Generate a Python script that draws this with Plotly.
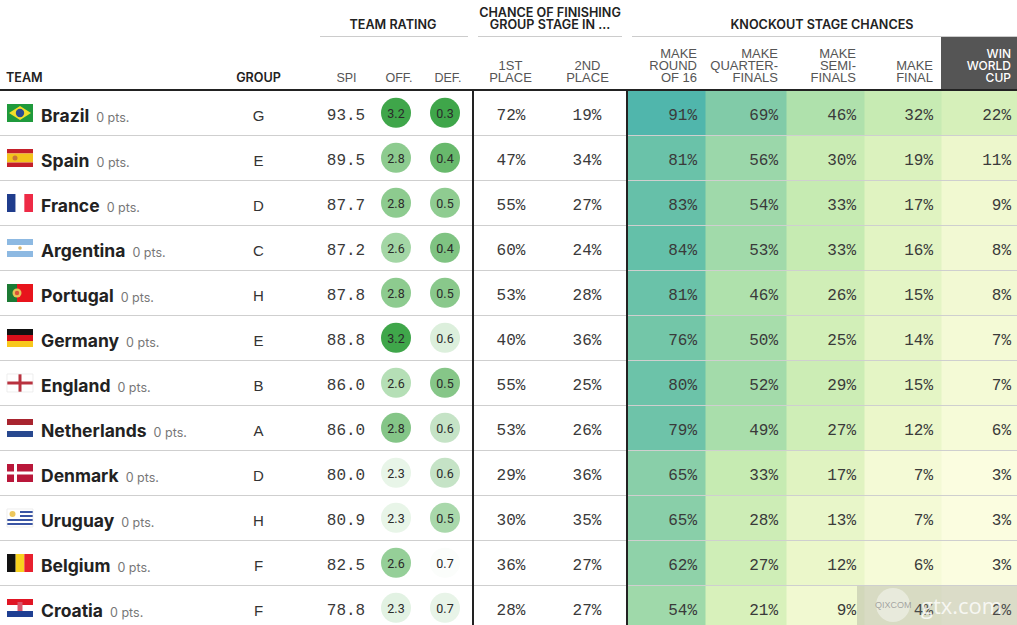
import plotly.graph_objects as go

teams = ["Brazil","Spain","France","Argentina","Portugal","Germany","England","Netherlands","Denmark","Uruguay","Belgium","Croatia"]
points = [0]*12
groups = ["G","E","D","C","H","E","B","A","D","H","F","F"]
spi = [93.5,89.5,87.7,87.2,87.8,88.8,86.0,86.0,80.0,80.9,82.5,78.8]
off = [3.20,2.81,2.81,2.62,2.81,3.20,2.58,2.84,2.30,2.30,2.65,2.33]
deff = [0.30,0.40,0.50,0.42,0.48,0.62,0.47,0.58,0.58,0.52,0.70,0.66]
first = [72,47,55,60,53,40,55,53,29,30,36,28]
second = [19,34,27,24,28,36,25,26,36,35,27,27]
r16 = [91,81,83,84,81,76,80,79,65,65,62,54]
qf = [69,56,54,53,46,50,52,49,33,28,27,21]
sf = [46,30,33,33,26,25,29,27,17,13,12,9]
final = [32,19,17,16,15,14,15,12,7,7,6,4]
win = [22,11,9,8,8,7,7,6,3,3,3,2]

W, H = 1017, 625
ROW0, ROWH = 91, 45
rows = list(range(len(teams)))
yc = [ROW0 + ROWH*(r+0.5) for r in rows]
MONO = "Liberation Mono"
SANS = "Liberation Sans"
TITLE = "Inter"
NARROW = "Roboto"

fig = go.Figure()

# knockout heat cells
edges = [627.5,705,786,864,941,1017]
edges_y = [ROW0 + ROWH*r for r in range(13)]
scale = [[0,"#FFFFE8"],[0.03,"#FBFDE0"],[0.1,"#EFF8CE"],[0.2,"#D9F1BC"],[0.33,"#C6EBB2"],[0.48,"#ABDFAB"],
         [0.7,"#7FCAA8"],[0.85,"#62BFA9"],[0.92,"#4DB4AC"],[1,"#45B0AC"]]
z = [[r16[r],qf[r],sf[r],final[r],win[r]] for r in rows]
fig.add_trace(go.Heatmap(x=edges,y=edges_y,z=z,zmin=0,zmax=100,colorscale=scale,showscale=False,hoverinfo="skip"))

shapes = []
def line(x0,y0,x1,y1,c,w):
    shapes.append(dict(type="line",x0=x0,y0=y0,x1=x1,y1=y1,line=dict(color=c,width=w),layer="above"))
def rect(x0,y0,x1,y1,c,layer="above"):
    shapes.append(dict(type="rect",x0=x0,y0=y0,x1=x1,y1=y1,fillcolor=c,line=dict(width=0),layer=layer))

# header fill
rect(941,37,1017,90,"#555555",layer="below")
# rules
for x0,x1 in [(320,468),(478,622),(632,1017)]:
    line(x0,36.5,x1,36.5,"#cccccc",1)
for r in rows[1:]:
    line(0,ROW0+ROWH*r-0.5,W,ROW0+ROWH*r-0.5,"#cfcfcf",1)
line(0,90,W,90,"#222222",2)
line(473,90,473,H,"#222222",2)
line(627,90,627,H,"#222222",2)

# flags (decor)
FX0,FX1,FH = 7,33,18
def fy(r): return yc[r]-9.5
def hstripes(r,cols):
    n=len(cols)
    for i,c in enumerate(cols):
        rect(FX0,fy(r)+FH*i/n,FX1,fy(r)+FH*(i+1)/n,c)
def vstripes(r,cols):
    n=len(cols)
    w=FX1-FX0
    for i,c in enumerate(cols):
        rect(FX0+w*i/n,fy(r),FX0+w*(i+1)/n,fy(r)+FH,c)
def circ(cx,cy,rad,c):
    shapes.append(dict(type="circle",x0=cx-rad,y0=cy-rad,x1=cx+rad,y1=cy+rad,fillcolor=c,line=dict(width=0),layer="above"))
def border(r):
    shapes.append(dict(type="rect",x0=FX0,y0=fy(r),x1=FX1,y1=fy(r)+FH,line=dict(color="#e6e6e6",width=0.7),layer="above"))
# Brazil
hstripes(0,["#1F9A3C"])
y=fy(0)
shapes.append(dict(type="path",path=f"M 9 {y+9} L 20 {y+2} L 31 {y+9} L 20 {y+16} Z",fillcolor="#F2DF2A",line=dict(width=0),layer="above"))
circ(20,y+9,4.2,"#2A4C93")
# Spain
y=fy(1)
hstripes(1,["#C4202A","#F3C31B","#F3C31B","#C4202A"]); circ(15,y+9,2.5,"#C8743A")
# France
vstripes(2,["#1F3C8C","#FFFFFF","#EE2A46"])
# Argentina
y=fy(3)
hstripes(3,["#8DB9E2","#FFFFFF","#8DB9E2"]); circ(20,y+9,1.8,"#D9B66C")
# Portugal
y=fy(4)
rect(7,y,17,y+18,"#1C7A34"); rect(17,y,33,y+18,"#E8141C"); circ(17,y+9,4.5,"#E7C257"); circ(17,y+9,2.2,"#D8543A")
# Germany
hstripes(5,["#111111","#D90F1A","#F8C81C"])
# England
y=fy(6)
hstripes(6,["#FFFFFF"]); rect(7,y+7.5,33,y+10.5,"#B9323F"); rect(18.5,y,21.5,y+18,"#B9323F"); border(6)
# Netherlands
hstripes(7,["#A8242F","#FFFFFF","#28488F"])
# Denmark
y=fy(8)
hstripes(8,["#B9173A"]); rect(7,y+7.5,33,y+10.5,"#FFFFFF"); rect(14,y,17,y+18,"#FFFFFF")
# Uruguay
y=fy(9)
hstripes(9,["#FFFFFF","#3A55A4","#FFFFFF","#3A55A4","#FFFFFF","#3A55A4","#FFFFFF","#3A55A4","#FFFFFF"])
rect(7,y,20,y+10,"#FFFFFF"); circ(12.5,y+5,3,"#EDC75C"); border(9)
# Belgium
vstripes(10,["#111111","#F8D21E","#E8202E"])
# Croatia
y=fy(11)
hstripes(11,["#E01524","#FFFFFF","#1F3F92"]); rect(17.5,y+3,22.5,y+12,"#D9566A")

# watermark
rect(857,586,W,H,"rgba(120,120,120,0.25)")
circ(893,605,17,"rgba(255,255,255,0.42)")

# texts
def text(xs,ys,ts,size,color,pos="middle center",family=SANS,weight=None):
    fig.add_trace(go.Scatter(x=xs,y=ys,text=ts,mode="text",textposition=pos,cliponaxis=False,hoverinfo="skip",
        textfont=dict(size=size,color=color,family=family,weight=weight)))

# header titles
text([393],[25.5],["TEAM RATING"],12.6,"#222",weight=600,family=TITLE)
text([550,550],[13.5,25.5],["CHANCE OF FINISHING","GROUP STAGE IN ..."],12.6,"#222",weight=600,family=TITLE)
text([822],[25.5],["KNOCKOUT STAGE CHANCES"],12.6,"#222",weight=600,family=TITLE)
text([6],[79],["TEAM"],12.6,"#222","middle right",weight=600,family=TITLE)
text([258.5],[79],["GROUP"],12.6,"#222",weight=600,family=TITLE)
text([346.5,399,448],[78.5,78.5,78.5],["SPI","OFF.","DEF."],12.5,"#555")
text([510.5,510.5,587.5,587.5],[67,79,67,79],["1ST","PLACE","2ND","PLACE"],13,"#555")
ko_heads = ["MAKE\nROUND\nOF 16","MAKE\nQUARTER-\nFINALS","MAKE\nSEMI-\nFINALS","MAKE\nFINAL"]
ko_right = [697,778,856,933]
for lab,xr in zip(ko_heads,ko_right):
    ls = lab.split("\n")
    text([xr]*len(ls),[79-12*(len(ls)-1-i) for i in range(len(ls))],ls,13,"#555","middle left")
text([1011]*3,[55,67,79],["WIN","WORLD","CUP"],12,"#ffffff","middle left",family=TITLE,weight=500)

# team cells
names = [f"<b>{t}</b><span style='font-size:12.5px;color:#777777'>  {p} pts.</span>" for t,p in zip(teams,points)]
text([41]*12,[y+4 for y in yc],names,17.5,"#222222","middle right",family=TITLE)
text([258.5]*12,[y+4 for y in yc],groups,15,"#333333")
text([346]*12,[y+2 for y in yc],[f"{v:.1f}" for v in spi],16,"#3a3a3a",family=MONO)

# rating bubbles
off_scale=[[0,"#E8F5E8"],[0.033,"#E2F2E3"],[0.31,"#B5DFB6"],[0.39,"#95CF98"],[0.567,"#8DCB8F"],[0.6,"#84C587"],[1,"#3FA64A"]]
def_scale=[[0,"#3FA64A"],[0.25,"#68B96C"],[0.3,"#7FC382"],[0.425,"#86C688"],[0.5,"#8FCC91"],[0.55,"#A9D8AB"],
           [0.7,"#C5E3C6"],[0.8,"#DCEFDC"],[0.9,"#E8F4E8"],[1,"#FBFDFB"]]
for xc,vals,sc,lo,hi in [(396,off,off_scale,2.3,3.2),(445,deff,def_scale,0.3,0.7)]:
    fig.add_trace(go.Scatter(x=[xc]*12,y=[y-0.7 for y in yc],mode="markers",hoverinfo="skip",
        marker=dict(size=30,color=vals,cmin=lo,cmax=hi,colorscale=sc,line=dict(width=0))))
    text([xc]*12,[y+1.5 for y in yc],[f"{v:.1f}" for v in vals],12.5,"#2a2a2a",family=NARROW)

# percent columns
text([511]*12,[y+2 for y in yc],[f"{v}%" for v in first],16,"#3a3a3a",family=MONO)
text([587]*12,[y+2 for y in yc],[f"{v}%" for v in second],16,"#3a3a3a",family=MONO)
for col,xr in zip([r16,qf,sf,final,win],[697,778,856,933,1011]):
    text([xr]*12,[y+2 for y in yc],[f"{v}%" for v in col],16,"#3a3a3a","middle left",family=MONO)

# watermark text
annotations=[dict(x=961.5,y=605,xref="x",yref="y",text="gtx.com",showarrow=False,
                  font=dict(size=22,color="rgba(255,255,255,0.8)",family="Open Sans")),
             dict(x=893,y=605,xref="x",yref="y",text="QIXCOM",showarrow=False,
                  font=dict(size=9,color="rgba(140,140,140,0.75)",family=SANS))]

fig.update_layout(width=W,height=H,margin=dict(l=0,r=0,t=0,b=0),paper_bgcolor="white",plot_bgcolor="white",
    showlegend=False,shapes=shapes,annotations=annotations,
    xaxis=dict(range=[0,W],visible=False,fixedrange=True),
    yaxis=dict(range=[H,0],visible=False,fixedrange=True))
fig.write_html("out.html",config=dict(displayModeBar=False),
    post_script="document.body.style.margin='0';document.body.style.overflow='hidden';")
